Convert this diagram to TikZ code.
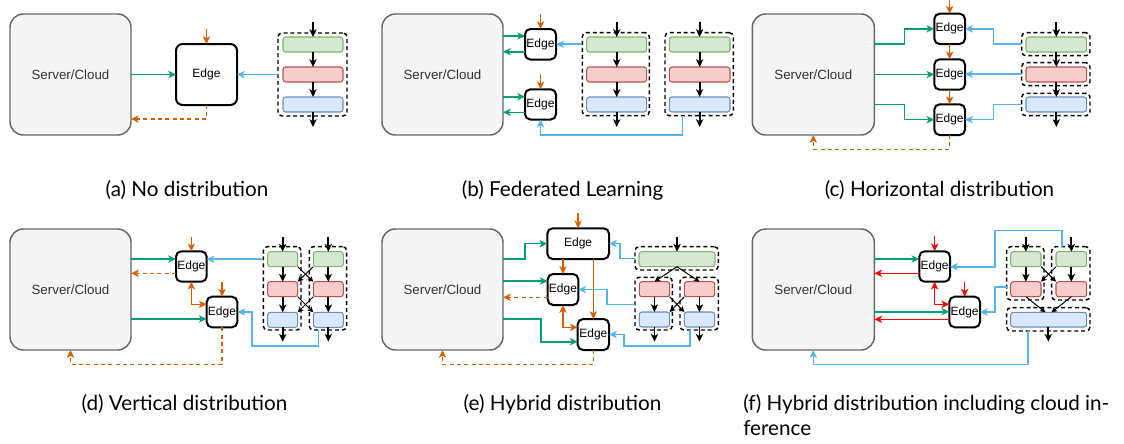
\documentclass[tikz,border=0pt]{standalone}
\usepackage{fontspec}
\newfontfamily\arialf{Liberation Sans}
\newfontfamily\capf{Lato}
\usetikzlibrary{arrows.meta}
\definecolor{okorange}{HTML}{D55E00}
\definecolor{okgreen}{HTML}{009E73}
\definecolor{okblue}{HTML}{56B4E9}
\definecolor{okred}{HTML}{FF0000}
\definecolor{srvfill}{HTML}{F5F5F5}
\definecolor{srvline}{HTML}{666666}
\definecolor{srvtext}{HTML}{333333}
\definecolor{lgfill}{HTML}{D5E8D4}
\definecolor{lgline}{HTML}{82B366}
\definecolor{lrfill}{HTML}{F8CECC}
\definecolor{lrline}{HTML}{B85450}
\definecolor{lbfill}{HTML}{DAE8FC}
\definecolor{lbline}{HTML}{6C8EBF}
\newcommand{\mkbox}[7]{\node[#1, minimum width={(#5-#3)*0.75pt}, minimum height={(#6-#4)*0.75pt}] (#2) at ({(#3+#5)/2},{(#4+#6)/2}) {#7};}
\tikzset{
  srv/.style={draw=srvline, fill=srvfill, line width=1.1pt, rounded corners=10pt, inner sep=0pt, outer sep=0pt, text=srvtext, font=\arialf\fontsize{10}{12}\selectfont},
  edg/.style={draw=black, fill=white, line width=1.5pt, rounded corners=4pt, inner sep=0pt, outer sep=0pt, font=\arialf\fontsize{9}{11}\selectfont},
  cont/.style={draw=black, dash pattern=on 3pt off 2.2pt, line width=1.1pt, rounded corners=3pt, inner sep=0pt, outer sep=0pt},
  lg/.style={draw=lgline, fill=lgfill, line width=0.8pt, rounded corners=2pt, inner sep=0pt, outer sep=0pt},
  lr/.style={draw=lrline, fill=lrfill, line width=0.8pt, rounded corners=2pt, inner sep=0pt, outer sep=0pt},
  lb/.style={draw=lbline, fill=lbfill, line width=0.8pt, rounded corners=2pt, inner sep=0pt, outer sep=0pt},
  con/.style={line width=1.2pt, ->},
  orw/.style={con, draw=okorange},
  ordw/.style={con, draw=okorange, dash pattern=on 3pt off 2.5pt},
  orbi/.style={line width=1.2pt, <->, draw=okorange},
  grw/.style={con, draw=okgreen},
  blw/.style={con, draw=okblue},
  rdw/.style={con, draw=okred},
  rdbi/.style={line width=1.2pt, <->, draw=okred},
  blk/.style={draw=black, line width=1.3pt, ->},
  thn/.style={draw=black, line width=0.75pt, -{Stealth[length=4.2pt,width=4.2pt,inset=1pt]}},
  captxt/.style={inner sep=0pt, font=\capf\fontsize{15.5}{18.75}\selectfont},
}
\begin{document}
\begin{tikzpicture}[x=0.75pt,y=-0.75pt, >={Stealth[length=5.8pt,width=5.4pt,inset=1.5pt]}]
\useasboundingbox (0,0) rectangle (1124,443);

% ---------------- (a) ----------------
\mkbox{srv}{srvA}{10}{14}{131}{135}{Server/Cloud}
\mkbox{edg,rounded corners=5pt}{edgeA}{176}{44}{237}{105}{Edge}
\mkbox{cont}{contA}{278}{33}{347}{116}{}
\mkbox{lg}{gA}{283}{37}{343}{52}{}
\mkbox{lr}{rA}{283}{67}{343}{82}{}
\mkbox{lb}{bA}{283}{97}{343}{112}{}
\draw[orw] (edgeA.north |- 0,29) -- (edgeA.north);
\draw[grw] (srvA) -- (edgeA);
\draw[blw] (contA) -- (edgeA);
\draw[ordw] (edgeA.south) -- (edgeA.south |- 0,119) -- (srvA.east |- 0,119);
\draw[blk] (gA.north |- 0,22) -- (gA.north);
\draw[blk] (gA) -- (rA);
\draw[blk] (rA) -- (bA);
\draw[blk] (bA.south) -- (bA.south |- 0,127);
\node[captxt, anchor=base] (capA) at (187,196) {(a) No distribution};

% ---------------- (b) ----------------
\mkbox{srv}{srvB}{382}{14}{503}{135}{Server/Cloud}
\mkbox{edg}{eB1}{525}{29}{556}{59.5}{Edge}
\mkbox{edg}{eB2}{525}{89.3}{556}{119.5}{Edge}
\draw[orw] (eB1.north |- 0,14) -- (eB1.north);
\draw[orw] (eB2.north |- 0,74) -- (eB2.north);
\draw[grw] (srvB.east |- 0,36) -- (eB1.west |- 0,36);
\draw[grw] (eB1.west |- 0,51.7) -- (srvB.east |- 0,51.7);
\draw[grw] (srvB.east |- 0,96.7) -- (eB2.west |- 0,96.7);
\draw[grw] (eB2.west |- 0,112.3) -- (srvB.east |- 0,112.3);
\mkbox{cont}{cB1}{582.3}{32.7}{649.3}{115.7}{}
\mkbox{lg}{gB1}{586.7}{37}{646.7}{52}{}
\mkbox{lr}{rB1}{586.7}{67}{646.7}{82}{}
\mkbox{lb}{bB1}{586.7}{97}{646.7}{112}{}
\mkbox{cont}{cB2}{665}{32.7}{733.3}{115.7}{}
\mkbox{lg}{gB2}{669.3}{37}{730}{52}{}
\mkbox{lr}{rB2}{669.3}{67}{730}{82}{}
\mkbox{lb}{bB2}{669.3}{97}{730}{112}{}
\foreach \c in {1,2}{
  \draw[blk] (gB\c.north |- 0,22) -- (gB\c.north);
  \draw[blk] (gB\c) -- (rB\c);
  \draw[blk] (rB\c) -- (bB\c);
  \draw[blk] (bB\c.south) -- (bB\c.south |- 0,127);
}
\draw[blw] (cB1.west |- eB1) -- (eB1.east);
\draw[blw] (682.3,0 |- cB2.south) -- (682.3,135) -| (eB2.south);
\node[captxt, anchor=base] (capB) at (562.5,196) {(b) Federated Learning};

% ---------------- (c) ----------------
\mkbox{srv}{srvC}{752.3}{14}{874.3}{135}{Server/Cloud}
\mkbox{edg}{eC1}{934.3}{13.7}{965}{44}{Edge}
\mkbox{edg}{eC2}{934.3}{59.3}{965}{89.7}{Edge}
\mkbox{edg}{eC3}{934.3}{104.3}{965}{135}{Edge}
\draw[orw] (eC1.north |- 0,0) -- (eC1.north);
\draw[orw] (eC1) -- (eC2);
\draw[orw] (eC2) -- (eC3);
\draw[grw] (srvC.east |- 0,44) -- (904.3,44) |- (eC1.west);
\draw[grw] (srvC.east |- eC2) -- (eC2.west);
\draw[grw] (srvC.east |- 0,104.3) -- (904.3,104.3) |- (eC3.west);
\mkbox{cont}{cC1}{1021.7}{32.7}{1090}{55.7}{}
\mkbox{cont}{cC2}{1021.7}{62.7}{1090}{85.7}{}
\mkbox{cont}{cC3}{1021.7}{93.3}{1090}{115.7}{}
\mkbox{lg}{gC}{1026}{37}{1086.7}{52}{}
\mkbox{lr}{rC}{1026}{67}{1086.7}{82}{}
\mkbox{lb}{bC}{1026}{97}{1086.7}{112}{}
\draw[blk] (gC.north |- 0,22) -- (gC.north);
\draw[blk] (gC) -- (rC);
\draw[blk] (rC) -- (bC);
\draw[blk] (bC.south) -- (bC.south |- 0,127);
\draw[blw] (cC1.west) -- (993.3,0 |- cC1.west) |- (eC1.east);
\draw[blw] (cC2.west) -- (cC2.west -| eC2.east);
\draw[blw] (cC3.west) -- (993.3,0 |- cC3.west) |- (eC3.east);
\draw[ordw] (eC3.south) -- (eC3.south |- 0,149.3) -| (srvC.south);
\node[captxt, anchor=base] (capC) at (939.5,196) {(c) Horizontal distribution};

% ---------------- (d) ----------------
\mkbox{srv}{srvD}{10}{229}{131}{350}{Server/Cloud}
\mkbox{edg}{eD1}{176}{251.3}{206.7}{281.7}{Edge}
\mkbox{edg}{eD2}{206.7}{296.7}{237.3}{327.3}{Edge}
\draw[orw] (eD1.north |- 0,236.7) -- (eD1.north);
\draw[orw] (eD2.north |- 0,281.7) -- (eD2.north);
\draw[grw] (srvD.east |- 0,259) -- (eD1.west |- 0,259);
\draw[grw] (srvD.east |- 0,319) -- (eD2.west |- 0,319);
\draw[ordw] (eD1.west |- 0,273.3) -- (srvD.east |- 0,273.3);
\draw[orbi] (eD1.south) |- (eD2.west |- 0,304.3);
\mkbox{cont}{cD1}{263.3}{246.7}{301}{330}{}
\mkbox{cont}{cD2}{309.3}{246.7}{346.7}{330}{}
\mkbox{lg}{gD1}{267.7}{251.7}{297.7}{266.7}{}
\mkbox{lr}{rD1}{267.7}{281.7}{297.7}{296.7}{}
\mkbox{lb}{bD1}{267.7}{312.3}{297.7}{327.3}{}
\mkbox{lg}{gD2}{313.3}{251.7}{343.3}{266.7}{}
\mkbox{lr}{rD2}{313.3}{281.7}{343.3}{296.7}{}
\mkbox{lb}{bD2}{313.3}{312.3}{343.3}{327.3}{}
\foreach \c in {1,2}{
  \draw[blk] (gD\c.north |- 0,236.7) -- (gD\c.north);
  \draw[blk] (gD\c) -- (rD\c);
  \draw[blk] (rD\c) -- (bD\c);
  \draw[blk] (bD\c.south) -- (bD\c.south |- 0,341.7);
}
\draw[thn] (gD1.south east) -- (rD2.north west);
\draw[thn] (gD2.south west) -- (rD1.north east);
\draw[thn] (rD1.south east) -- (bD2.north west);
\draw[thn] (rD2.south west) -- (bD1.north east);
\draw[blw] (cD1.west |- gD1) -- (eD1.east |- gD1);
\draw[blw] (318.3,0 |- cD2.south) -- (318.3,345.7) -- (251.7,345.7) |- (eD2.east);
\draw[ordw] (eD2.south) -- (eD2.south |- 0,364.3) -| (srvD.south);
\node[captxt, anchor=base] (capD) at (184.5,410) {(d) Vertical distribution};

% ---------------- (e) ----------------
\mkbox{srv}{srvE}{382}{229}{503}{350}{Server/Cloud}
\mkbox{edg}{eE1}{547.3}{228.3}{609}{259}{Edge}
\mkbox{edg}{eE2}{547.7}{274}{578.3}{305}{Edge}
\mkbox{edg}{eE3}{577.7}{319}{609}{350}{Edge}
\draw[orw] (eE1.north |- 0,213.3) -- (eE1.north);
\draw[orw] (eE2.north |- eE1.south) -- (eE2.north);
\draw[orw] (eE3.north |- eE1.south) -- (eE3.north);
\draw[orbi] (eE2.south) |- (eE3.west |- 0,327.3);
\draw[ordw] (eE2.west |- 0,297.3) -- (srvE.east |- 0,297.3);
\draw[ordw] (eE3.south) -- (eE3.south |- 0,364.3) -| (srvE.south);
\draw[grw] (srvE.east |- 0,259) -- (525,259) |- (eE1.west);
\draw[grw] (srvE.east |- 0,281) -- (eE2.west |- 0,281);
\draw[grw] (srvE.east |- 0,319) -- (540.7,319) |- (eE3.west |- 0,341.7);
\mkbox{cont}{cEt}{635}{246.7}{718.3}{270}{}
\mkbox{cont}{cE1}{635}{277.3}{672.3}{330}{}
\mkbox{cont}{cE2}{680}{277.3}{718.3}{330}{}
\mkbox{lg}{gE}{639}{251.7}{715}{266.7}{}
\mkbox{lr}{rE1}{639.3}{281.7}{669.7}{296.7}{}
\mkbox{lb}{bE1}{639.3}{312}{669.7}{327}{}
\mkbox{lr}{rE2}{684.3}{281.7}{714.7}{296.7}{}
\mkbox{lb}{bE2}{684.3}{312}{714.7}{327}{}
\draw[blk] (gE.north |- 0,236.7) -- (gE.north);
\draw[thn] (gE.south) -- (rE1.north);
\draw[thn] (gE.south) -- (rE2.north);
\foreach \c in {1,2}{
  \draw[blk] (rE\c) -- (bE\c);
  \draw[blk] (bE\c.south) -- (bE\c.south |- 0,341.7);
}
\draw[thn] (rE1.south east) -- (bE2.north west);
\draw[thn] (rE2.south west) -- (bE1.north east);
\draw[blw] (cEt.west) -- (620,0 |- cEt.west) |- (eE1.east);
\draw[blw] (cE1.west |- 0,304.3) -- (606.7,304.3) |- (eE2.east);
\draw[blw] (690,0 |- cE2.south) -- (690,345.7) -- (624,345.7) |- (eE3.east);
\node[captxt, anchor=base] (capE) at (562.5,410) {(e) Hybrid distribution};

% ---------------- (f) ----------------
\mkbox{srv}{srvF}{752.3}{229}{874.3}{350}{Server/Cloud}
\mkbox{edg}{eF1}{919.3}{251.3}{950}{281.7}{Edge}
\mkbox{edg}{eF2}{949.3}{296.7}{980}{327.3}{Edge}
\draw[rdw] (eF1.north |- 0,236) -- (eF1.north);
\draw[rdw] (eF2.north |- 0,281.7) -- (eF2.north);
\draw[grw] (srvF.east |- 0,259) -- (eF1.west |- 0,259);
\draw[grw] (srvF.east |- 0,311.7) -- (eF2.west |- 0,311.7);
\draw[rdw] (eF1.west |- 0,273.3) -- (srvF.east |- 0,273.3);
\draw[rdw] (eF2.west |- 0,319.3) -- (srvF.east |- 0,319.3);
\draw[rdbi] (eF1.south) |- (eF2.west |- 0,304.3);
\mkbox{cont}{cF1}{1006.7}{246.7}{1044}{300}{}
\mkbox{cont}{cF2}{1051.7}{246.7}{1090}{300}{}
\mkbox{cont}{cFb}{1006.7}{307.7}{1090}{331}{}
\mkbox{lg}{gF1}{1010.7}{251.7}{1041}{266.7}{}
\mkbox{lr}{rF1}{1010.7}{281.7}{1041}{296.7}{}
\mkbox{lg}{gF2}{1056}{251.7}{1086.7}{266.7}{}
\mkbox{lr}{rF2}{1056}{281.7}{1086.7}{296.7}{}
\mkbox{lb}{bF}{1010.7}{312.3}{1086.7}{327}{}
\foreach \c in {1,2}{
  \draw[blk] (gF\c.north |- 0,236.7) -- (gF\c.north);
  \draw[blk] (gF\c) -- (rF\c);
}
\draw[thn] (gF1.south east) -- (rF2.north west);
\draw[thn] (gF2.south west) -- (rF1.north east);
\draw[thn] (rF1.south) -- (1045.5,0 |- bF.north);
\draw[thn] (rF2.south) -- (1051.5,0 |- bF.north);
\draw[blk] (1048.3,0 |- bF.south) -- (1048.3,341.7);
\draw[blw] (1061.7,0 |- cF2.north) -- (1061.7,230.5) -- (995,230.5) |- (eF1.east |- 0,266.7);
\draw[blw] (cF1.west |- 0,287) -- (995,287) |- (eF2.east);
\draw[blw] (1027.7,0 |- cFb.south) -- (1027.7,364.3) -| (srvF.south);
\node[captxt, anchor=base west] (capF1) at (743,410) {(f) Hybrid distribution including cloud in-};
\node[captxt, anchor=base west] (capF2) at (743,435) {ference};
\end{tikzpicture}
\end{document}
